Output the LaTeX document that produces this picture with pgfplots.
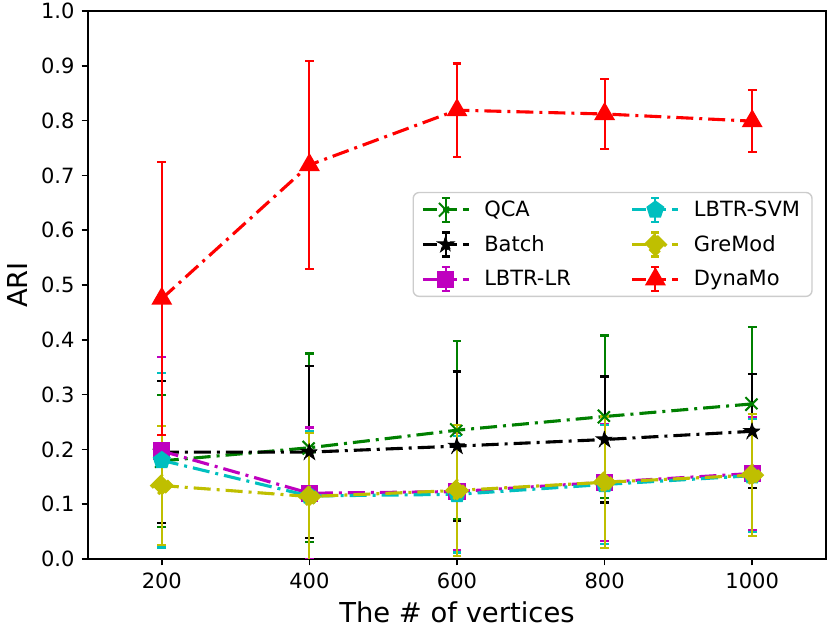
\documentclass[border=0pt]{standalone}
\usepackage{fontspec}
\setmainfont{DejaVu Sans}
\usepackage{pgfplots}
\pgfplotsset{compat=1.18}
\definecolor{mgreen}{rgb}{0,0.5,0}
\definecolor{mmag}{rgb}{0.75,0,0.75}
\definecolor{mcyan}{rgb}{0,0.75,0.75}
\definecolor{myel}{rgb}{0.75,0.75,0}
\definecolor{mred}{rgb}{1,0,0}
\pgfdeclareplotmark{fstar}{%
  \pgfpathmoveto{\pgfpointpolar{90}{\pgfplotmarksize}}%
  \pgfpathlineto{\pgfpointpolar{126}{0.382\pgfplotmarksize}}%
  \pgfpathlineto{\pgfpointpolar{162}{\pgfplotmarksize}}%
  \pgfpathlineto{\pgfpointpolar{198}{0.382\pgfplotmarksize}}%
  \pgfpathlineto{\pgfpointpolar{234}{\pgfplotmarksize}}%
  \pgfpathlineto{\pgfpointpolar{270}{0.382\pgfplotmarksize}}%
  \pgfpathlineto{\pgfpointpolar{306}{\pgfplotmarksize}}%
  \pgfpathlineto{\pgfpointpolar{342}{0.382\pgfplotmarksize}}%
  \pgfpathlineto{\pgfpointpolar{18}{\pgfplotmarksize}}%
  \pgfpathlineto{\pgfpointpolar{54}{0.382\pgfplotmarksize}}%
  \pgfpathclose\pgfusepathqfillstroke}
\pgfplotsset{
  ser/.style={line width=1.55pt, dash pattern=on 8.5pt off 3pt on 1.5pt off 3pt,
    mark options={solid},
    error bars/y dir=both, error bars/y explicit,
    error bars/error mark=|,
    error bars/error bar style={line width=1.1pt, solid},
    error bars/error mark options={line width=1.1pt, mark size=2.2pt, solid}},
}
\begin{document}
\begin{tikzpicture}
\begin{axis}[name=ax, scale only axis, width=369pt, height=274pt,
  xmin=100, xmax=1100, ymin=0, ymax=1,
  xtick={200,400,600,800,1000},
  ytick={0,0.1,0.2,0.3,0.4,0.5,0.6,0.7,0.8,0.9,1.0},
  yticklabel style={/pgf/number format/.cd, fixed, fixed zerofill, precision=1},
  xticklabel style={/pgf/number format/1000 sep={}},
  /pgf/number format/assume math mode=true,
  tick align=outside, tick pos=left, major tick length=3.2pt,
  every tick/.style={black, line width=0.72pt},
  axis line style={line width=0.72pt},
  ticklabel style={font=\fontsize{10.5}{12}\selectfont},
  xlabel={The \# of vertices}, ylabel={ARI},
  label style={font=\fontsize{13.7}{16}\selectfont},
  legend columns=3, transpose legend, legend cell align=left,
  legend style={at={(0.982,0.670)}, anchor=north east, draw=black!20, line width=0.7pt,
    rounded corners=3pt, font=\fontsize{10.5}{12}\selectfont, row sep=4pt,
    inner xsep=4pt,
    /tikz/every odd column/.append style={column sep=5pt},
    /tikz/every even column/.append style={column sep=28pt}},
  legend image code/.code={%
    \draw[solid, line width=1.1pt] (11.5pt,-6pt)--(11.5pt,6pt) (9.5pt,-6pt)--(13.5pt,-6pt) (9.5pt,6pt)--(13.5pt,6pt);
    \draw[mark repeat=2,mark phase=2, dash pattern=on 7pt off 3pt] plot coordinates {(0pt,0pt) (11.5pt,0pt) (23pt,0pt)};},
]
\addplot[ser, mgreen, mark=x, mark size=4.8pt, mark options={line width=1pt}] table[x index=0, y index=1, y error index=2] {
200 0.179 0.120
400 0.203 0.172
600 0.235 0.163
800 0.260 0.148
1000 0.283 0.141
};
\addlegendentry{QCA}
\addplot[ser, black, mark=fstar, mark size=4.3pt, mark options={line width=0.5pt}] table[x index=0, y index=1, y error index=2] {
200 0.195 0.130
400 0.195 0.157
600 0.206 0.136
800 0.218 0.115
1000 0.233 0.104
};
\addlegendentry{Batch}
\addplot[ser, mmag, mark=square*, mark size=3.5pt] table[x index=0, y index=1, y error index=2] {
200 0.197 0.172
400 0.120 0.120
600 0.123 0.107
800 0.140 0.107
1000 0.156 0.103
};
\addlegendentry{LBTR-LR}
\addplot[ser, mcyan, mark=pentagon*, mark size=3.8pt] table[x index=0, y index=1, y error index=2] {
200 0.180 0.159
400 0.115 0.118
600 0.118 0.106
800 0.136 0.108
1000 0.152 0.103
};
\addlegendentry{LBTR-SVM}
\addplot[ser, myel, mark=square*, mark size=3.5pt, mark options={rotate=45}] table[x index=0, y index=1, y error index=2] {
200 0.134 0.109
400 0.114 0.116
600 0.125 0.120
800 0.140 0.120
1000 0.153 0.111
};
\addlegendentry{GreMod}
\addplot[ser, mred, mark=triangle*, mark size=4.5pt] table[x index=0, y index=1, y error index=2] {
200 0.475 0.249
400 0.719 0.190
600 0.819 0.085
800 0.812 0.064
1000 0.799 0.057
};
\addlegendentry{DynaMo}
\end{axis}
\pgfresetboundingbox
\path ([shift={(-44pt,-37.5pt)}]ax.south west) rectangle ([shift={(2.5pt,5.5pt)}]ax.north east);
\end{tikzpicture}
\end{document}
